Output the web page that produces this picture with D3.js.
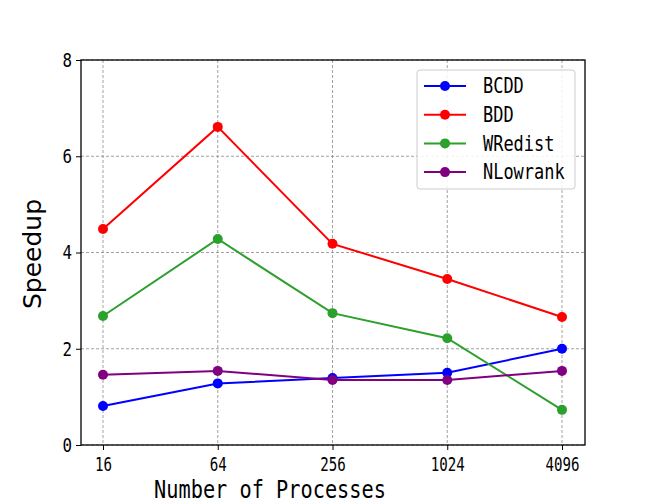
<!DOCTYPE html>
<meta charset="utf-8">
<head>
<style>
  body { margin: 0; background: #fff; }
  .mono { font-family: "DejaVu Sans Mono", monospace; fill: #000; }
  .grid line { stroke: #8a8a8a; stroke-dasharray: 3,2; stroke-width: 0.8; }
</style>
</head>
<script src="https://d3js.org/d3.v7.min.js"></script>
<div id="my_dataviz"></div>
<script>
// categories and series
var processes = ["16", "64", "256", "1024", "4096"];
var bcdd     = [0.81, 1.28, 1.39, 1.50, 2.00];
var bdd      = [4.49, 6.61, 4.18, 3.45, 2.66];
var wredist  = [2.68, 4.28, 2.74, 2.22, 0.73];
var nlowrank = [1.46, 1.54, 1.35, 1.35, 1.54];
var seriesNames = ["BCDD", "BDD", "WRedist", "NLowrank"];
var seriesColors = ["#0000ff", "#ff0000", "#2ca02c", "#800080"];
var yTicks = [0, 2, 4, 6, 8];

var series = [bcdd, bdd, wredist, nlowrank].map(function(v, i) {
  return {name: seriesNames[i], color: seriesColors[i], values: v};
});

var margin = {top: 60, right: 65, bottom: 55, left: 81},
    width = 650 - margin.left - margin.right,
    height = 500 - margin.top - margin.bottom;

var svg = d3.select("#my_dataviz").append("svg")
    .attr("width", 650).attr("height", 500)
  .append("g")
    .attr("transform", "translate(" + margin.left + "," + margin.top + ")");

// x is categorical, points evenly spaced with padding at both ends
var x = d3.scalePoint().domain(processes).range([22, width - 23]);
var y = d3.scaleLinear().domain([0, 8]).range([height, 0]);

// narrow text helper (mimic half-width CJK font)
function narrow(sel, size, per) {
  sel.attr("class", "mono")
    .style("font-size", size + "px")
    .attr("lengthAdjust", "spacingAndGlyphs")
    .attr("textLength", function() { return this.textContent.length * per; });
}

// grid
svg.append("g").attr("class", "grid")
  .selectAll("line.v").data(processes).enter().append("line")
    .attr("x1", function(d) { return x(d); }).attr("x2", function(d) { return x(d); })
    .attr("y1", 0).attr("y2", height);
svg.select(".grid")
  .selectAll("line.h").data(yTicks).enter().append("line")
    .attr("x1", 0).attr("x2", width)
    .attr("y1", function(d) { return y(d); }).attr("y2", function(d) { return y(d); });

// axes
var xAxis = svg.append("g")
  .attr("transform", "translate(0," + height + ")")
  .call(d3.axisBottom(x).tickSize(5).tickPadding(4));
var yAxis = svg.append("g")
  .call(d3.axisLeft(y).tickValues(yTicks).tickSize(5).tickPadding(4));
[xAxis, yAxis].forEach(function(a) {
  a.select(".domain").remove();
  a.selectAll(".tick line").attr("stroke", "#000").attr("stroke-width", 1);
});
xAxis.selectAll(".tick text").call(narrow, 20, 8.5).attr("dy", "0.85em");
yAxis.selectAll(".tick text").call(narrow, 20, 9.5);

// frame
svg.append("rect")
  .attr("width", width).attr("height", height)
  .attr("fill", "none").attr("stroke", "#000").attr("stroke-width", 1.3);

// lines and markers
var line = d3.line()
  .x(function(d, i) { return x(processes[i]); })
  .y(function(d) { return y(d); });

series.forEach(function(s) {
  svg.append("path")
    .datum(s.values)
    .attr("fill", "none")
    .attr("stroke", s.color)
    .attr("stroke-width", 2)
    .attr("d", line);
  svg.selectAll(null).data(s.values).enter().append("circle")
    .attr("cx", function(d, i) { return x(processes[i]); })
    .attr("cy", function(d) { return y(d); })
    .attr("r", 5)
    .attr("fill", s.color);
});

// axis labels
svg.append("text")
  .attr("x", width / 2 - 63)
  .attr("y", height + 53)
  .attr("text-anchor", "middle")
  .text("Number of Processes")
  .call(narrow, 25, 12.2);

svg.append("text")
  .attr("transform", "rotate(-90)")
  .attr("x", -(254 - margin.top))
  .attr("y", -40)
  .attr("text-anchor", "middle")
  .style("font-family", "DejaVu Sans, sans-serif")
  .style("font-size", "25px")
  .text("Speedup");

// legend
var legend = svg.append("g").attr("transform", "translate(" + (417 - margin.left) + "," + (70 - margin.top) + ")");
legend.append("rect")
  .attr("width", 158).attr("height", 119)
  .attr("rx", 3)
  .attr("fill", "#fff").attr("fill-opacity", 0.85)
  .attr("stroke", "#ccc");
series.forEach(function(s, i) {
  var g = legend.append("g").attr("transform", "translate(0," + (16 + i * 28.7) + ")");
  g.append("line").attr("x1", 7).attr("x2", 49)
    .attr("stroke", s.color).attr("stroke-width", 2);
  g.append("circle").attr("cx", 28).attr("r", 5).attr("fill", s.color);
  g.append("text").attr("x", 66).attr("dy", "0.35em")
    .text(s.name)
    .call(narrow, 21, 10.2);
});
</script>
